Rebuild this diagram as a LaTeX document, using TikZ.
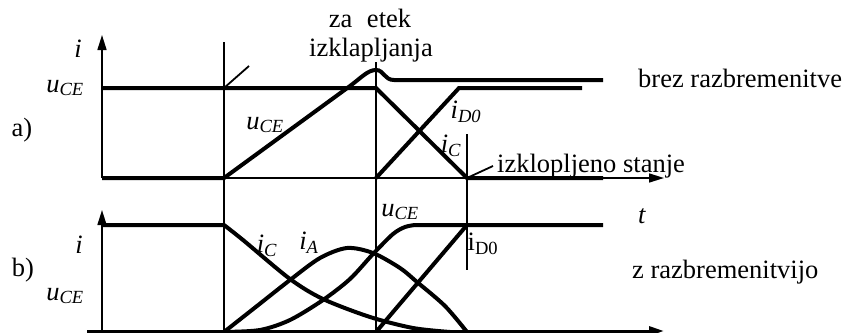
\documentclass[tikz,border=0pt]{standalone}
\usepackage{fontspec}
\setmainfont{Liberation Serif}
\usetikzlibrary{arrows.meta}
\newcommand{\uCE}{\textit{u}\textsubscript{\textit{CE}}}
\newcommand{\iX}[1]{\textit{i}\textsubscript{\textit{#1}}}

\begin{document}
\begin{tikzpicture}[x=1pt,y=-1pt,
  lbl/.style={font=\fontsize{26.5}{30}\selectfont,inner sep=0pt},
  wave/.style={line width=4pt},
  guide/.style={line width=1.8pt},
  axis/.style={line width=1.6pt,-{Triangle[length=15pt,width=9pt]}}]
\useasboundingbox (0,0) rectangle (845,332);
% axes
\draw[axis] (102,178) -- (102,35);
\draw[axis] (102,178) -- (664,178);
\draw[axis] (102,331) -- (102,210);
\draw[axis,line width=3pt] (87,331) -- (664,331);
% switching instants
\draw[guide] (224,42) -- (224,331);
\draw[guide] (376,62) -- (376,331);
\draw[guide] (467,134) -- (467,270);
\draw[guide] (224,88) -- (249,66);
% a) hard switching
\draw[wave] (102,88) -- (376,88) -- (467,178) -- (603,178);
\draw[wave] (102,178) -- (224,178) -- (350,86)
  .. controls (362,77) and (368,70) .. (376,70)
  .. controls (384,70) and (384,80) .. (394,80) -- (603,80);
\draw[wave] (376,178) -- (459,88) -- (582,88);
% b) with snubber
\draw[wave] (102,225) -- (224,225) plot[smooth] coordinates
  {(224,225) (243,240) (290,279) (323,299) (370,317) (413,328) (450,332)};
\draw[wave] plot[smooth] coordinates
  {(224,332) (257,306) (290,280) (320,258) (347,248) (373,253) (400,268) (417,282) (445,306) (467,332)};
\draw[wave] plot[smooth] coordinates
  {(224,332) (260,330) (290,320) (323,300) (350,279) (373,254) (393,234) (405,227) (415,225)}
  -- (603,225);
\draw[wave] (376,332) -- (467,225);
% labels
\node[lbl] (iA) at (78,49) {\textit{i}};
\node[lbl] (uA) at (65,88) {\uCE};
\node[lbl] (pa) at (22,130) {a)};
\node[lbl] (uramp) at (265,125) {\uCE};
\node[lbl] (zac) at (370,18) {za\hspace{0.3em} etek};
\node[lbl] (izk) at (371,50) {izklapljanja};
\node[lbl,anchor=west] (brez) at (638,78) {brez razbremenitve};
\node[lbl] (iDa) at (466,112) {\iX{D0}};
\node[lbl] (iCa) at (451,146) {\iX{C}};
\node[lbl,anchor=west] (stanje) at (497,166) {izklopljeno stanje};
\draw[guide] (467,178) -- ([xshift=-4pt]stanje.west);
\node[lbl] (t) at (642,216) {\textit{t}};
\node[lbl] (iB) at (79,245) {\textit{i}};
\node[lbl] (pb) at (23,270) {b)};
\node[lbl] (uB) at (65,296) {\uCE};
\node[lbl] (iCb) at (267,246) {\iX{C}};
\node[lbl] (iAb) at (309,243) {\iX{A}};
\node[lbl] (ucb) at (400,212) {\uCE};
\node[lbl] (iDb) at (483,244) {i\textsubscript{D0}};
\node[lbl,anchor=west] (z) at (632,272) {z razbremenitvijo};
\end{tikzpicture}
\end{document}
